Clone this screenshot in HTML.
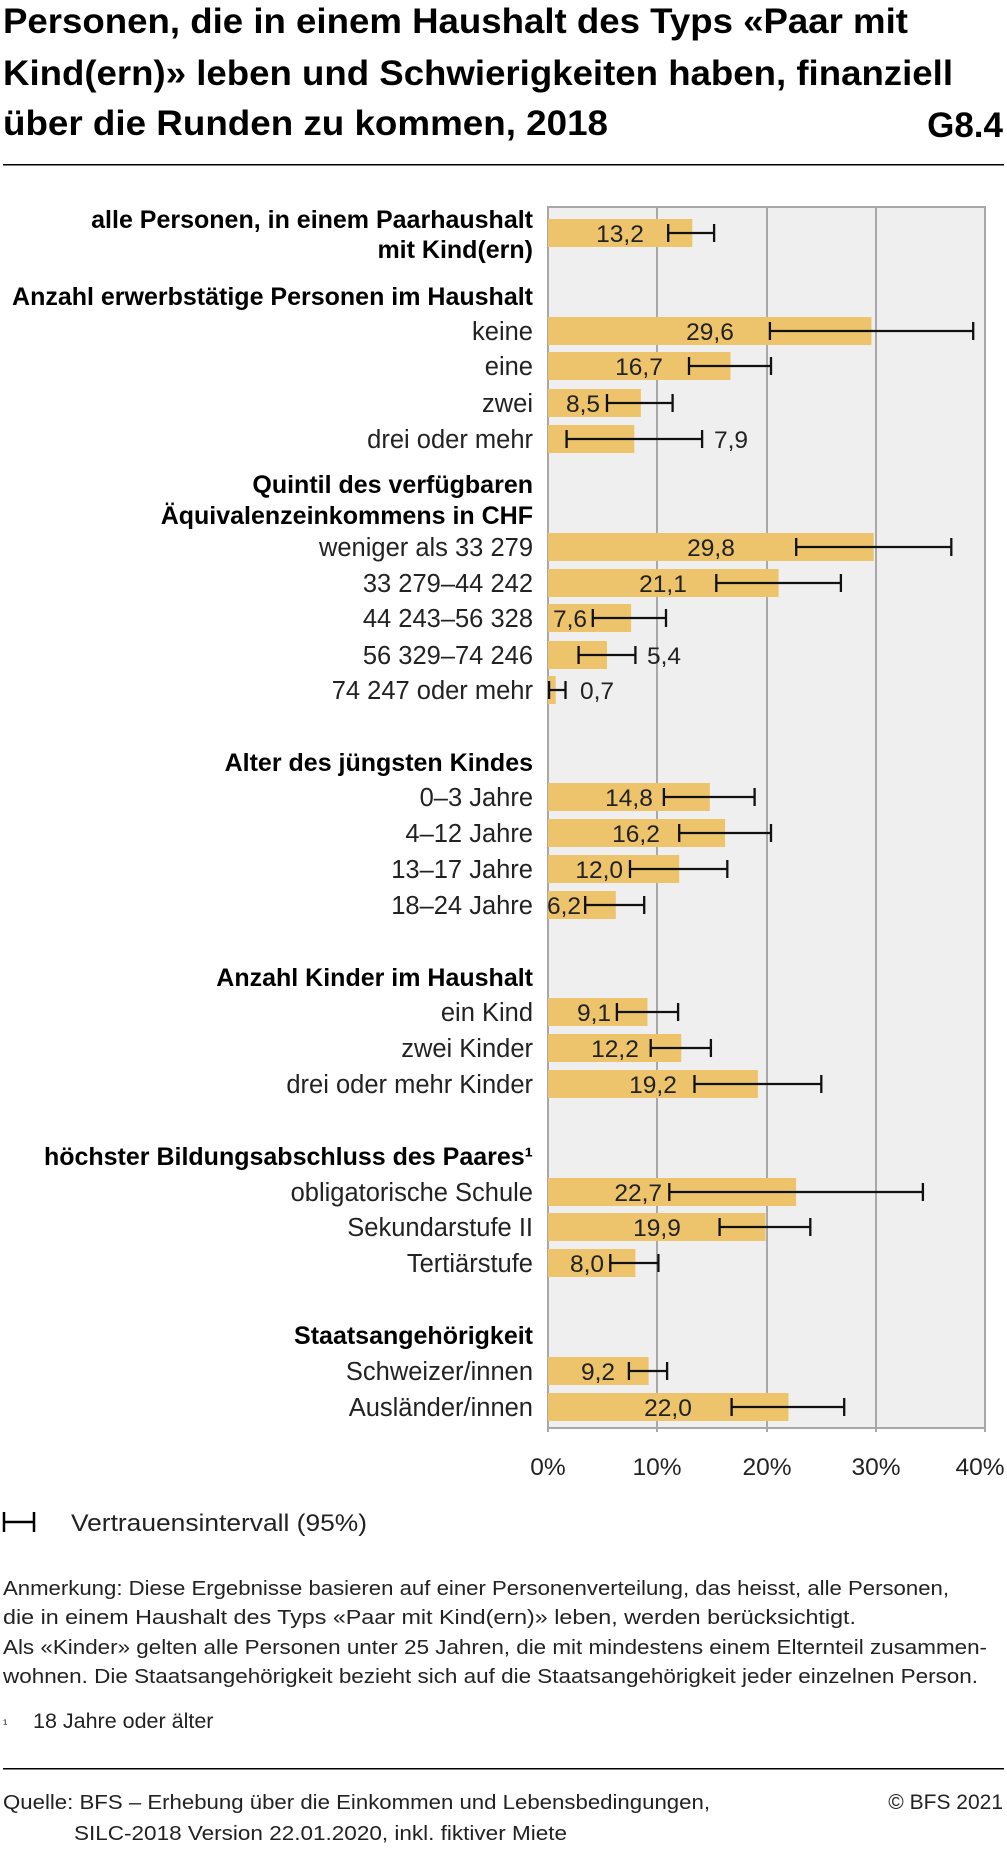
<!DOCTYPE html>
<html><head><meta charset="utf-8"><style>
html,body{margin:0;padding:0;background:#fff}
svg{display:block;font-family:"Liberation Sans",sans-serif}
.t{font-size:35px;font-weight:bold;fill:#000}
.l{font-size:25.5px;fill:#222;text-anchor:end}
.h{font-size:25px;font-weight:bold;fill:#000;text-anchor:end}
.v{font-size:24.5px;fill:#222}
.c{font-size:24.5px;fill:#222;text-anchor:middle}
.r{font-size:24.5px;fill:#222;text-anchor:end}
.n{font-size:20px;fill:#222}
.e{stroke:#111;stroke-width:2.3;fill:none}
.b{fill:#edc46b}
</style></head><body>
<svg width="1007" height="1849" viewBox="0 0 1007 1849">
<text class="t" x="3" y="33" textLength="905" lengthAdjust="spacingAndGlyphs">Personen, die in einem Haushalt des Typs «Paar mit</text>
<text class="t" x="3" y="85" textLength="950" lengthAdjust="spacingAndGlyphs">Kind(ern)» leben und Schwierigkeiten haben, finanziell</text>
<text class="t" x="3" y="135" textLength="605" lengthAdjust="spacingAndGlyphs">über die Runden zu kommen, 2018</text>
<text class="t" x="1003" y="137" text-anchor="end">G8.4</text>
<rect x="3" y="164" width="1001" height="1.5" fill="#000"/>
<rect x="548" y="207" width="437" height="1221" fill="#efefef" stroke="#a8a8a8" stroke-width="2"/>
<g stroke="#a8a8a8" stroke-width="2">
<line x1="657" y1="207" x2="657" y2="1432"/><line x1="767" y1="207" x2="767" y2="1432"/><line x1="876" y1="207" x2="876" y2="1432"/><line x1="548" y1="1428" x2="548" y2="1432"/><line x1="985" y1="1428" x2="985" y2="1432"/>
</g>
<g class="c">
<text x="548" y="1475">0%</text><text x="657" y="1475">10%</text><text x="767" y="1475">20%</text><text x="876" y="1475">30%</text><text x="980" y="1475">40%</text>
</g>

<g class="b">
<rect x="548" y="219" width="144.3" height="28"/>
<rect x="548" y="317" width="323.5" height="28"/>
<rect x="548" y="352" width="182.5" height="28"/>
<rect x="548" y="389" width="92.9" height="28"/>
<rect x="548" y="425" width="86.3" height="28"/>
<rect x="548" y="533" width="325.7" height="28"/>
<rect x="548" y="569" width="230.6" height="28"/>
<rect x="548" y="604" width="83.1" height="28"/>
<rect x="548" y="641" width="59.0" height="28"/>
<rect x="548" y="676" width="7.7" height="28"/>
<rect x="548" y="783" width="161.8" height="28"/>
<rect x="548" y="819" width="177.1" height="28"/>
<rect x="548" y="855" width="131.2" height="28"/>
<rect x="548" y="891" width="67.8" height="28"/>
<rect x="548" y="998" width="99.5" height="28"/>
<rect x="548" y="1034" width="133.3" height="28"/>
<rect x="548" y="1070" width="209.9" height="28"/>
<rect x="548" y="1178" width="248.1" height="28"/>
<rect x="548" y="1213" width="217.5" height="28"/>
<rect x="548" y="1249" width="87.4" height="28"/>
<rect x="548" y="1357" width="100.6" height="28"/>
<rect x="548" y="1393" width="240.5" height="28"/>
</g>

<g class="c">
<text x="620" y="242">13,2</text>
<text x="710" y="340">29,6</text>
<text x="639" y="375">16,7</text>
<text x="711" y="556">29,8</text>
<text x="663" y="592">21,1</text>
<text x="629" y="806">14,8</text>
<text x="636" y="842">16,2</text>
<text x="615" y="1057">12,2</text>
<text x="653" y="1093">19,2</text>
<text x="657" y="1236">19,9</text>
<text x="598" y="1380">9,2</text>
<text x="668" y="1416">22,0</text>
</g>
<g class="r">
<text x="600" y="412">8,5</text>
<text x="587" y="627">7,6</text>
<text x="623" y="878">12,0</text>
<text x="581" y="914">6,2</text>
<text x="611" y="1021">9,1</text>
<text x="662" y="1201">22,7</text>
<text x="604" y="1272">8,0</text>
</g>
<g class="v">
<text x="714" y="448">7,9</text>
<text x="647" y="664">5,4</text>
<text x="580" y="699">0,7</text>
</g>

<g class="e">
<path d="M668.2 224v18M668.2 233H714.1M714.1 224v18"/>
<path d="M769.9 322v18M769.9 331H973.2M973.2 322v18"/>
<path d="M689 357v18M689 366H771M771 357v18"/>
<path d="M607 394v18M607 403H672.6M672.6 394v18"/>
<path d="M566.6 430v18M566.6 439H702.1M702.1 430v18"/>
<path d="M796.2 538v18M796.2 547H951.3M951.3 538v18"/>
<path d="M716.3 574v18M716.3 583H840.9M840.9 574v18"/>
<path d="M592.8 609v18M592.8 618H666M666 609v18"/>
<path d="M578.6 646v18M578.6 655H635.4M635.4 646v18"/>
<path d="M549.1 681v18M549.1 690H565.5M565.5 681v18"/>
<path d="M663.9 788v18M663.9 797H754.6M754.6 788v18"/>
<path d="M679.2 824v18M679.2 833H771M771 824v18"/>
<path d="M630 860v18M630 869H727.3M727.3 860v18"/>
<path d="M585.2 896v18M585.2 905H644.2M644.2 896v18"/>
<path d="M616.9 1003v18M616.9 1012H678.1M678.1 1003v18"/>
<path d="M650.7 1039v18M650.7 1048H710.9M710.9 1039v18"/>
<path d="M694.5 1075v18M694.5 1084H821.3M821.3 1075v18"/>
<path d="M669.3 1183v18M669.3 1192H922.9M922.9 1183v18"/>
<path d="M719.6 1218v18M719.6 1227H810.3M810.3 1218v18"/>
<path d="M610.3 1254v18M610.3 1263H658.4M658.4 1254v18"/>
<path d="M628.9 1362v18M628.9 1371H667.1M667.1 1362v18"/>
<path d="M731.6 1398v18M731.6 1407H844.2M844.2 1398v18"/>
</g>

<g class="l">
<text x="533" y="340">keine</text>
<text x="533" y="375">eine</text>
<text x="533" y="412">zwei</text>
<text x="533" y="448">drei oder mehr</text>
<text x="533" y="556">weniger als 33 279</text>
<text x="533" y="592">33 279–44 242</text>
<text x="533" y="627">44 243–56 328</text>
<text x="533" y="664">56 329–74 246</text>
<text x="533" y="699">74 247 oder mehr</text>
<text x="533" y="806">0–3 Jahre</text>
<text x="533" y="842">4–12 Jahre</text>
<text x="533" y="878">13–17 Jahre</text>
<text x="533" y="914">18–24 Jahre</text>
<text x="533" y="1021">ein Kind</text>
<text x="533" y="1057">zwei Kinder</text>
<text x="533" y="1093">drei oder mehr Kinder</text>
<text x="533" y="1201">obligatorische Schule</text>
<text x="533" y="1236">Sekundarstufe II</text>
<text x="533" y="1272">Tertiärstufe</text>
<text x="533" y="1380">Schweizer/innen</text>
<text x="533" y="1416">Ausländer/innen</text>
</g>
<g class="h">
<text x="533" y="228">alle Personen, in einem Paarhaushalt</text>
<text x="533" y="258">mit Kind(ern)</text>
<text x="533" y="305">Anzahl erwerbstätige Personen im Haushalt</text>
<text x="533" y="493">Quintil des verfügbaren</text>
<text x="533" y="524">Äquivalenzeinkommens in CHF</text>
<text x="533" y="771">Alter des jüngsten Kindes</text>
<text x="533" y="986">Anzahl Kinder im Haushalt</text>
<text x="533" y="1165">höchster Bildungsabschluss des Paares¹</text>
<text x="533" y="1344">Staatsangehörigkeit</text>
</g>
<path d="M4 1512v20M4 1522h30M34 1512v20" stroke="#000" stroke-width="2.5" fill="none"/>
<text class="v" x="71" y="1531" textLength="296" lengthAdjust="spacingAndGlyphs">Vertrauensintervall (95%)</text>
<g class="n">
<text x="3" y="1595" textLength="946" lengthAdjust="spacingAndGlyphs">Anmerkung: Diese Ergebnisse basieren auf einer Personenverteilung, das heisst, alle Personen,</text>
<text x="3" y="1624" textLength="853" lengthAdjust="spacingAndGlyphs">die in einem Haushalt des Typs «Paar mit Kind(ern)» leben, werden berücksichtigt.</text>
<text x="3" y="1654" textLength="984" lengthAdjust="spacingAndGlyphs">Als «Kinder» gelten alle Personen unter 25 Jahren, die mit mindestens einem Elternteil zusammen-</text>
<text x="3" y="1683" textLength="975" lengthAdjust="spacingAndGlyphs">wohnen. Die Staatsangehörigkeit bezieht sich auf die Staatsangehörigkeit jeder einzelnen Person.</text>
<text x="3" y="1728" font-size="13">¹</text><text x="33" y="1728" font-size="21.5">18 Jahre oder älter</text>
<text x="3" y="1809" textLength="707" lengthAdjust="spacingAndGlyphs">Quelle: BFS – Erhebung über die Einkommen und Lebensbedingungen,</text>
<text x="74" y="1840" textLength="493" lengthAdjust="spacingAndGlyphs">SILC-2018 Version 22.01.2020, inkl. fiktiver Miete</text>
<text x="1003" y="1809" text-anchor="end" font-size="21">© BFS 2021</text>
</g>
<rect x="3" y="1768" width="1001" height="1.5" fill="#000"/>
</svg>
</body></html>
